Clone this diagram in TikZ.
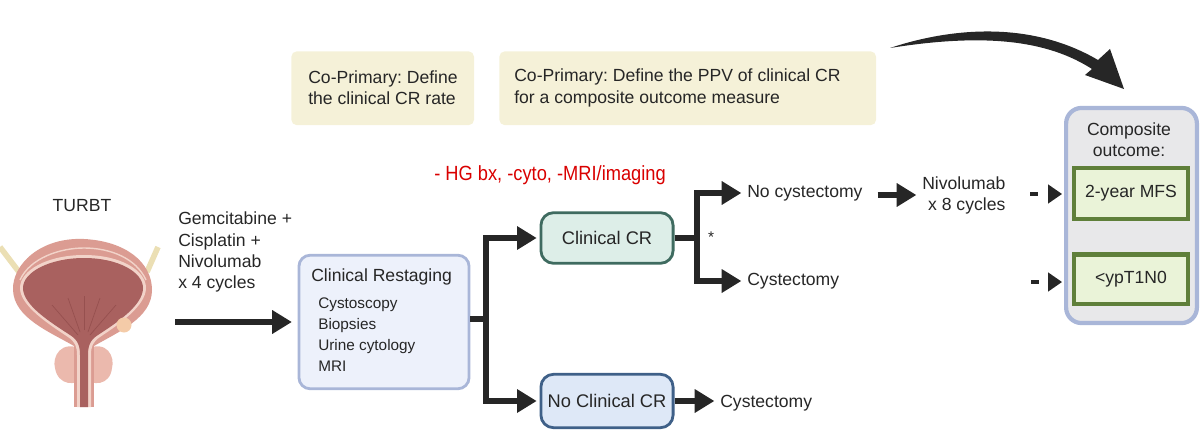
\documentclass[tikz,border=0pt]{standalone}
\usepackage{graphicx}
\usepackage{fontspec}
\setmainfont{Liberation Sans}
\usetikzlibrary{arrows.meta}

\definecolor{inktext}{HTML}{262626}
\definecolor{goalfill}{HTML}{F5F1D8}
\definecolor{stagefill}{HTML}{EDF1FB}
\definecolor{stageline}{HTML}{A9B6D8}
\definecolor{crfill}{HTML}{DDEEE8}
\definecolor{crline}{HTML}{3F6B60}
\definecolor{nocrfill}{HTML}{DEE8F7}
\definecolor{nocrline}{HTML}{3F6088}
\definecolor{outerfill}{HTML}{E8E8EA}
\definecolor{endfill}{HTML}{EAF3D8}
\definecolor{endline}{HTML}{5F7F3A}
\definecolor{wall}{HTML}{DB9C92}
\definecolor{lumen}{HTML}{A9615F}
\definecolor{fold}{HTML}{96504F}
\definecolor{wallpale}{HTML}{F2D3C9}
\definecolor{gland}{HTML}{EBB9AD}
\definecolor{ureter}{HTML}{EBDFB4}
\definecolor{tumor}{HTML}{F4CBA8}

\tikzset{
	txt/.style={text=inktext,inner sep=0pt,align=left,font=\fontsize{12.5pt}{15pt}\selectfont},
	goalbox/.style={fill=goalfill,rounded corners=4pt,anchor=north west,inner sep=0pt},
	crbox/.style={rounded corners=9pt,line width=2pt,minimum width=94pt,inner sep=0pt,text=inktext,font=\fontsize{13pt}{15pt}\selectfont},
	endbox/.style={fill=endfill,draw=endline,line width=3pt,minimum width=81pt,inner sep=0pt,text=inktext,font=\fontsize{12.5pt}{15pt}\selectfont},
	flow/.style={draw=inktext,line width=3.6pt,shorten >=4pt,-{Triangle[length=14pt,width=16pt]}},
	trunk/.style={draw=inktext,line width=3.6pt},
	nexttip/.style={draw=inktext,line width=3pt,dash pattern=on 6pt off 8pt,shorten >=7pt,-{Triangle[length=10pt,width=13pt]}}
}

\begin{document}
\frenchspacing
\begin{tikzpicture}[x=0.025cm,y=-0.025cm]
	\useasboundingbox (0,0) rectangle (1200,433);

	% bladder
	\draw[line width=4pt,color=ureter] (0,247) -- (19,272);
	\draw[line width=4pt,color=ureter] (158,247) -- (147,272);
	\fill[gland] (84,350) .. controls (60,338) and (52,358) .. (55,368) .. controls (58,386) and (76,386) .. (84,378) .. controls (92,386) and (110,386) .. (112,368) .. controls (115,358) and (108,338) .. (84,350) -- cycle;
	\fill[wall] (74,340) -- (74,407) -- (94,407) -- (94,340) -- cycle;
	\fill[wall] (84,239) .. controls (40,237) and (12,265) .. (13,290) .. controls (14,318) and (50,332) .. (74,346) -- (94,346) .. controls (118,332) and (152,318) .. (152,290) .. controls (152,262) and (125,241) .. (84,239) -- cycle;
	\draw[wallpale,line width=1pt] (20,280) .. controls (30,258) and (60,248) .. (84,248) .. controls (110,248) and (136,258) .. (146,280);
	\fill[wallpale] (84,255) .. controls (48,255) and (20,270) .. (20,288) .. controls (20,306) and (50,325) .. (68,337) .. controls (75,342) and (77,346) .. (77,355) -- (77,407) -- (91,407) -- (91,355) .. controls (91,346) and (93,342) .. (100,337) .. controls (118,325) and (146,306) .. (146,288) .. controls (146,270) and (120,255) .. (84,255) -- cycle;
	\fill[lumen] (84,258) .. controls (50,258) and (23,272) .. (23,288) .. controls (23,305) and (50,322) .. (70,335) .. controls (78,340) and (80,346) .. (80,355) -- (80,407) -- (88,407) -- (88,355) .. controls (88,346) and (90,340) .. (98,335) .. controls (118,322) and (143,305) .. (143,288) .. controls (143,272) and (118,258) .. (84,258) -- cycle;
	\foreach \xa/\ya/\xb/\yb in {78/335/52/305,80/332/68/298,88/332/100/298,90/335/116/305,84/330/84/296}
		\draw[fold,line width=0.5pt] (\xa,\ya) -- (\xb,\yb);
	\fill[tumor] (124,325) circle (7.5);

	\node[txt] (turbt) at (82,206) {TURBT};
	\node[txt,anchor=west] (chemo) at (178,252) {Gemcitabine +\\Cisplatin +\\Nivolumab\\x 4 cycles};

	\node[goalbox,minimum width=130pt,minimum height=52.6pt] (goala) at (291,51) {};
	\node[goalbox,minimum width=268pt,minimum height=52.6pt] (goalb) at (499,51) {};
	\node[txt,anchor=west] (goalatext) at (308,88) {Co-Primary: Define\\the clinical CR rate};
	\node[txt,anchor=west] (goalbtext) at (514,88) {Co-Primary: Define the PPV of clinical CR\\for a composite outcome measure};

	\node[text=red!85!black,inner sep=0pt,font=\fontsize{14.6pt}{15pt}\selectfont] (redtext) at (550,175) {\scalebox{0.89}[1]{- HG bx, -cyto, -MRI/imaging}};

	\node[fill=stagefill,draw=stageline,line width=2pt,rounded corners=8pt,minimum width=121pt,minimum height=95pt,inner sep=0pt] (stage) at (384,322) {};
	\node[txt,anchor=west] (stagetitle) at (311,277) {Clinical Restaging};
	\node[txt,anchor=north west,font=\fontsize{10.9pt}{14.9pt}\selectfont] (stageitems) at (318,298) {Cystoscopy\\Biopsies\\Urine cytology\\MRI};

	\node[crbox,fill=crfill,draw=crline,minimum height=36pt] (cr) at (607,238) {Clinical CR};
	\node[crbox,fill=nocrfill,draw=nocrline,minimum height=38pt] (nocr) at (607,401) {No Clinical CR};

	\node[txt,anchor=west] (nocyst) at (747,193) {No cystectomy};
	\node[txt,anchor=west] (cyst) at (747,281) {Cystectomy};
	\node[txt,anchor=west] (cystb) at (720,403) {Cystectomy};
	\node[txt,font=\fontsize{11pt}{11pt}\selectfont] (star) at (711,237) {*};
	\node[txt,anchor=west,align=right] (nivo) at (922,195) {Nivolumab\\x 8 cycles};

	\node[fill=outerfill,draw=stageline,line width=3pt,rounded corners=11pt,minimum width=93pt,minimum height=153pt,inner sep=0pt] (outer) at (1131.5,215.5) {};
	\node[txt,align=center] (outertitle) at (1129,140) {Composite\\outcome:};
	\node[endbox,minimum height=36pt] (mfs) at (1131,193.5) {2-year MFS};
	\node[endbox,minimum height=35pt] (ypt) at (1131,279) {<ypT1N0};

	\coordinate (chemostart) at (175,322);
	\coordinate (bigstart) at (890,48);
	\coordinate (bigtip) at (1124,89);
	\coordinate (dasha) at (1030,194);
	\coordinate (dashb) at (1031,282);
	\coordinate (splita) at (486,319);
	\coordinate (splitb) at (697,238);

	\draw[flow] (chemostart) -- (stage.west);
	\path[trunk] (stage.east |- splita) -- (splita);
	\draw[flow,shorten >=2pt] (splita) |- (cr.west);
	\draw[flow,shorten >=2pt] (splita) |- (nocr.west);
	\path[trunk] (cr.east) -- (splitb);
	\draw[flow] (splitb) |- (nocyst.west);
	\draw[flow] (splitb) |- (cyst.west);
	\draw[flow] (nocr.east) -- (nocr.east -| cystb.west);
	\draw[flow,shorten <=10.5pt] (nocyst.east |- nivo.west) -- (nivo.west);
	\draw[nexttip] (dasha) -- (mfs.west |- dasha);
	\draw[nexttip] (dashb) -- (ypt.west |- dashb);

	% big curved arrow
	\fill[inktext] (bigstart) .. controls (950,28) and (1030,20) .. (1098,60) -- (1110,49) -- (bigtip) -- (1085,75) -- (1092,69) .. controls (1050,42) and (990,32) .. (bigstart) -- cycle;
\end{tikzpicture}
\end{document}
